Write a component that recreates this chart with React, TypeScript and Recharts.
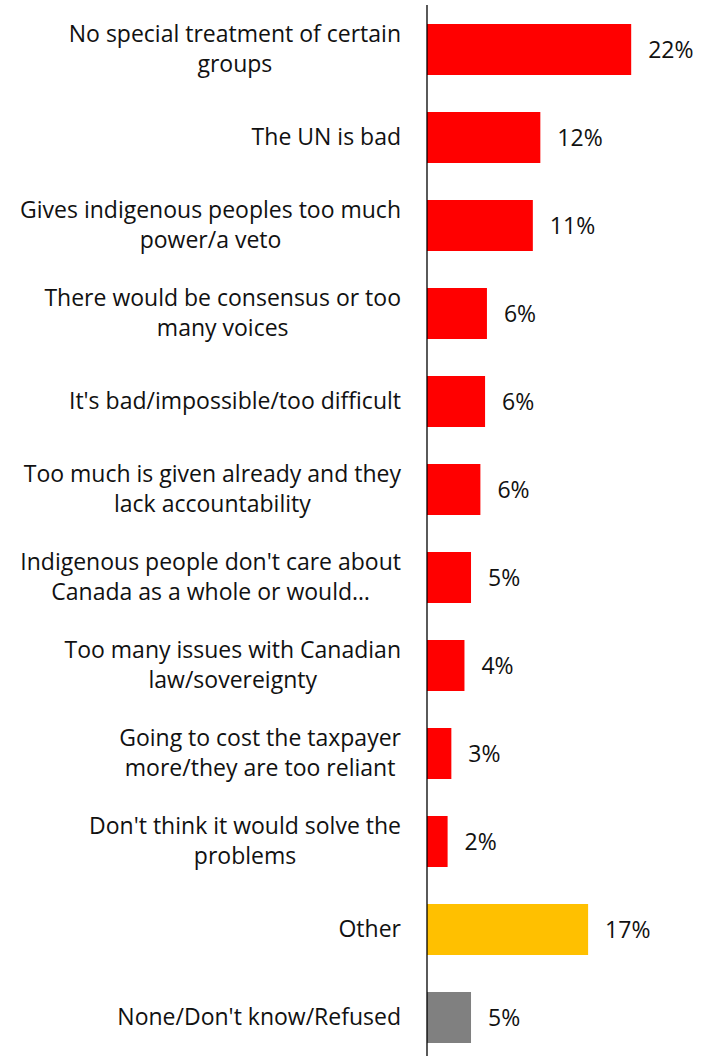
import { BarChart, Bar, XAxis, YAxis, Cell, LabelList } from 'recharts';

const categories = [
  'No special treatment of certain\ngroups',
  'The UN is bad',
  'Gives indigenous peoples too much\npower/a veto',
  'There would be consensus or too\nmany voices',
  "It's bad/impossible/too difficult",
  'Too much is given already and they\nlack accountability',
  "Indigenous people don't care about\nCanada as a whole or would…",
  'Too many issues with Canadian\nlaw/sovereignty',
  'Going to cost the taxpayer\nmore/they are too reliant',
  "Don't think it would solve the\nproblems",
  'Other',
  "None/Don't know/Refused",
];

const values = [21.8, 12.1, 11.3, 6.4, 6.2, 5.7, 4.7, 4.0, 2.6, 2.2, 17.2, 4.7];

const barColors = [
  '#FF0000', '#FF0000', '#FF0000', '#FF0000', '#FF0000', '#FF0000',
  '#FF0000', '#FF0000', '#FF0000', '#FF0000', '#FFC000', '#808080',
];

const data = categories.map((name, i) => ({ name, value: values[i] }));

const FONT = 'Open Sans';
const FONT_SIZE = 23;
const LINE_GAP = 30;

let ctx: CanvasRenderingContext2D | null = null;
const measure = (s: string) => {
  if (!ctx) ctx = document.createElement('canvas').getContext('2d');
  if (!ctx) return s.length * FONT_SIZE * 0.5;
  ctx.font = `${FONT_SIZE}px "${FONT}"`;
  return ctx.measureText(s).width;
};

const CategoryTick = (props: any) => {
  const { x, y, payload } = props;
  const lines: string[] = String(payload.value).split('\n');
  const blockW = Math.max(...lines.map(measure));
  const cx = x - 18 - blockW / 2;
  const startY = y - ((lines.length - 1) * LINE_GAP) / 2;
  return (
    <text textAnchor="middle" fontFamily={FONT} fontSize={FONT_SIZE} fill="#111">
      {lines.map((l, i) => (
        <tspan key={i} x={cx} y={startY + i * LINE_GAP} dy="0.35em">
          {l}
        </tspan>
      ))}
    </text>
  );
};

export default function App() {
  return (
    <div style={{ position: 'absolute', left: 0, top: 0, width: 708, height: 1056, overflow: 'hidden', background: '#fff' }}>
      <BarChart
        width={708}
        height={1061}
        data={data}
        layout="vertical"
        margin={{ top: 5, right: 0, bottom: 0, left: 0 }}
      >
        <XAxis type="number" domain={[0, 30]} hide />
        <YAxis
          type="category"
          dataKey="name"
          width={427}
          axisLine={{ stroke: '#000', strokeWidth: 1.3 }}
          tickLine={false}
          tick={<CategoryTick />}
          interval={0}
        />
        <Bar dataKey="value" barSize={51} isAnimationActive={false}>
          {data.map((_, i) => (
            <Cell key={i} fill={barColors[i]} />
          ))}
          <LabelList
            dataKey="value"
            position="right"
            offset={17}
            formatter={(v: any) => `${Math.round(Number(v))}%`}
            style={{ fontFamily: FONT, fontSize: FONT_SIZE, fill: '#111' }}
          />
        </Bar>
      </BarChart>
    </div>
  );
}
